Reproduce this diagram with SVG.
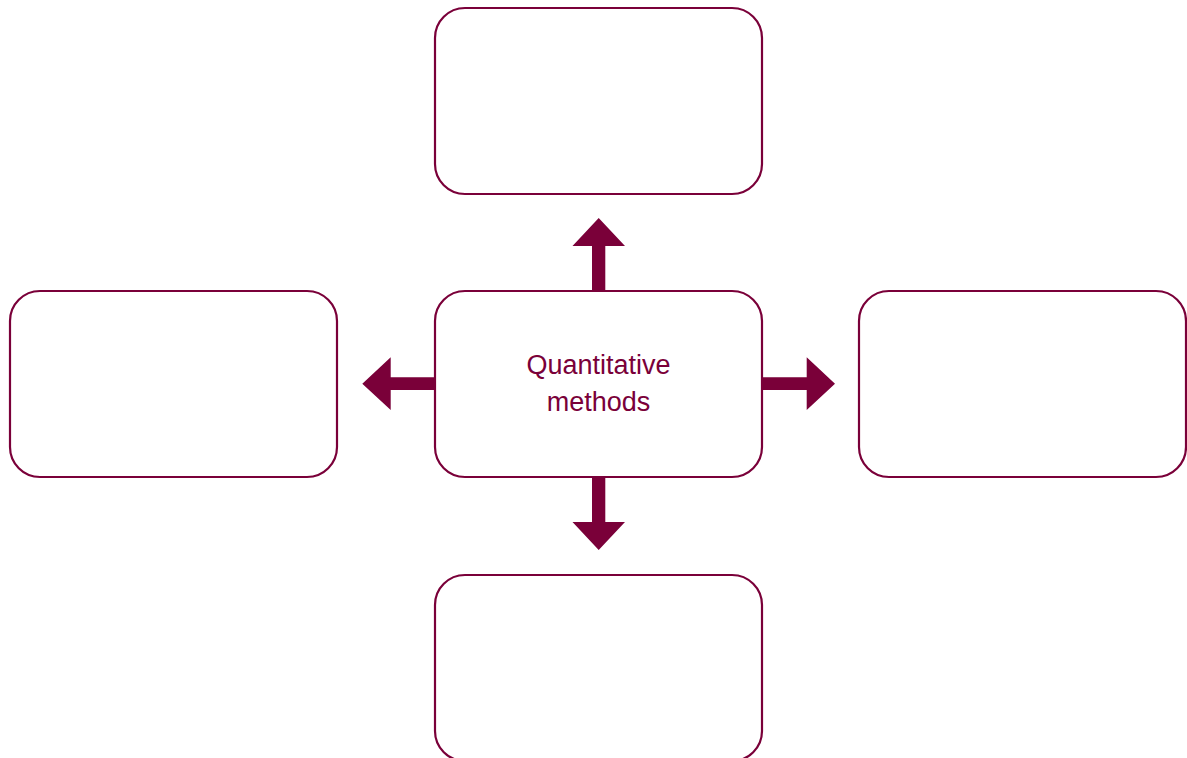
<svg xmlns="http://www.w3.org/2000/svg" width="1187" height="758" viewBox="0 0 1187 758">
<style>
.box{fill:#ffffff;stroke:#7a0039;stroke-width:2.2}
.arrow{fill:#7a0039}
.label{font-family:"Liberation Sans",Arial,sans-serif;font-size:27px;fill:#7a0039;text-anchor:middle}
</style>
<rect width="1187" height="758" fill="#ffffff"/>
<g id="connectors">
<polygon class="arrow" points="592,290 592,246 572.5,246 598.7,218 625,246 605.3,246 605.3,290"/>
<polygon class="arrow" points="592,478 592,522 572.5,522 598.7,550 625,522 605.3,522 605.3,478"/>
<polygon class="arrow" points="434,377.3 390.7,377.3 390.7,357.3 362.3,383.7 390.7,410 390.7,390 434,390"/>
<polygon class="arrow" points="762,377.3 806.7,377.3 806.7,357.3 835,383.7 806.7,410 806.7,390 762,390"/>
</g>
<g id="node-top"><rect class="box" x="435" y="8" width="327" height="186" rx="30"/></g>
<g id="node-center"><rect class="box" x="435" y="291" width="327" height="186" rx="30"/>
<text class="label" x="598.5" y="374">Quantitative</text>
<text class="label" x="598.5" y="411">methods</text></g>
<g id="node-left"><rect class="box" x="10" y="291" width="327" height="186" rx="30"/></g>
<g id="node-right"><rect class="box" x="859" y="291" width="327" height="186" rx="30"/></g>
<g id="node-bottom"><rect class="box" x="435" y="575" width="327" height="186" rx="30"/></g>
</svg>
